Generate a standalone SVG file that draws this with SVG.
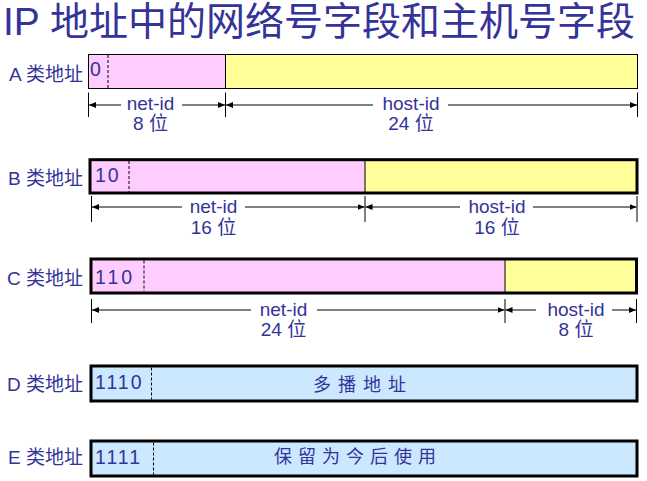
<svg xmlns="http://www.w3.org/2000/svg" width="647" height="481" viewBox="0 0 647 481">
<style>
text{font-family:"Liberation Sans","Noto Sans CJK SC",sans-serif;fill:#333399}
.title{font-size:39px}
.lbl{font-size:19px;text-anchor:end}
.bits{font-size:19.5px}
.dim{font-size:19px;text-anchor:middle}
.cjk{font-size:18px;text-anchor:middle}
.pink{fill:#ffccff}
.yel{fill:#ffff99}
.blue{fill:#cce8ff}
.thin{fill:none;stroke:#000;stroke-width:1}
.thick{fill:none;stroke:#000;stroke-width:3}
.div{stroke:#000;stroke-width:1}
.dash{stroke:#000;stroke-width:1;stroke-dasharray:3,2}
.arr{stroke:#000;stroke-width:1;fill:none}
.tick{stroke:#000;stroke-width:1}
</style>
<defs>
<marker id="ah" markerUnits="userSpaceOnUse" markerWidth="7" markerHeight="6" refX="7" refY="3" orient="auto-start-reverse">
<path d="M0,0 L7,3 L0,6 z" fill="#000"/>
</marker>
</defs>
<rect width="647" height="481" fill="#fff"/>
<text class="title" x="3" y="35">IP 地址中的网络号字段和主机号字段</text>

<g id="classA">
<text class="lbl" x="83" y="81">A 类地址</text>
<rect class="pink" x="88.5" y="54.5" width="137" height="34"/>
<rect class="yel" x="225.5" y="54.5" width="412" height="34"/>
<line class="div" x1="225.5" y1="54.5" x2="225.5" y2="88.5"/>
<line class="dash" x1="108" y1="55" x2="108" y2="88"/>
<rect class="thin" x="88.5" y="54.5" width="549" height="34"/>
<text class="bits" x="90" y="76">0</text>
<text class="dim" x="150.5" y="110">net-id</text>
<text class="dim" x="150.5" y="130">8 位</text>
<text class="dim" x="411" y="110">host-id</text>
<text class="dim" x="411" y="130">24 位</text>
</g>

<g id="classB">
<text class="lbl" x="83" y="184.5">B 类地址</text>
<rect class="pink" x="90" y="159.7" width="275" height="33.3"/>
<rect class="yel" x="365" y="159.7" width="272" height="33.3"/>
<line class="div" x1="365" y1="159.7" x2="365" y2="193"/>
<line class="dash" x1="129" y1="161" x2="129" y2="192"/>
<rect class="thick" x="90" y="159.7" width="547" height="33.3"/>
<text class="bits" x="95" y="182" letter-spacing="2">10</text>
<text class="dim" x="213.5" y="213">net-id</text>
<text class="dim" x="213.5" y="234">16 位</text>
<text class="dim" x="497" y="213">host-id</text>
<text class="dim" x="497" y="234">16 位</text>
</g>

<g id="classC">
<text class="lbl" x="83" y="284.5">C 类地址</text>
<rect class="pink" x="91" y="259" width="414" height="34"/>
<rect class="yel" x="505" y="259" width="131.5" height="34"/>
<line class="div" x1="505" y1="259" x2="505" y2="293"/>
<line class="dash" x1="144" y1="260.5" x2="144" y2="291.5"/>
<rect class="thick" x="91" y="259" width="545.5" height="34"/>
<text class="bits" x="95" y="283.5" letter-spacing="3">110</text>
<text class="dim" x="283.5" y="316">net-id</text>
<text class="dim" x="283.5" y="336">24 位</text>
<text class="dim" x="576" y="316">host-id</text>
<text class="dim" x="576" y="336">8 位</text>
</g>

<g id="classD">
<text class="lbl" x="83" y="390.5">D 类地址</text>
<rect class="blue" x="91" y="366" width="546" height="35"/>
<line class="dash" x1="151.5" y1="367.5" x2="151.5" y2="399.5"/>
<rect class="thick" x="91" y="366" width="546" height="35"/>
<text class="bits" x="95" y="389" letter-spacing="2">1110</text>
<text class="cjk" x="363" y="391" letter-spacing="7">多播地址</text>
</g>

<g id="classE">
<text class="lbl" x="83" y="464">E 类地址</text>
<rect class="blue" x="91" y="441" width="546" height="35"/>
<line class="dash" x1="153.5" y1="442.5" x2="153.5" y2="474.5"/>
<rect class="thick" x="91" y="441" width="546" height="35"/>
<text class="bits" x="95" y="464" letter-spacing="2">1111</text>
<text class="cjk" x="358" y="463" letter-spacing="6">保留为今后使用</text>
</g>

<g id="connectors">
<line class="tick" x1="88.5" y1="92.5" x2="88.5" y2="117"/>
<line class="tick" x1="225.5" y1="92.5" x2="225.5" y2="117"/>
<line class="tick" x1="637.5" y1="92.5" x2="637.5" y2="117"/>
<line class="arr" x1="121" y1="105" x2="89" y2="105" marker-end="url(#ah)"/>
<line class="arr" x1="182" y1="105" x2="225" y2="105" marker-end="url(#ah)"/>
<line class="arr" x1="373" y1="105" x2="226" y2="105" marker-end="url(#ah)"/>
<line class="arr" x1="448" y1="105" x2="637" y2="105" marker-end="url(#ah)"/>

<line class="tick" x1="91.5" y1="196" x2="91.5" y2="222"/>
<line class="tick" x1="365" y1="196" x2="365" y2="222"/>
<line class="tick" x1="637" y1="196" x2="637" y2="222"/>
<line class="arr" x1="182" y1="207" x2="92" y2="207" marker-end="url(#ah)"/>
<line class="arr" x1="245" y1="207" x2="364.5" y2="207" marker-end="url(#ah)"/>
<line class="arr" x1="460" y1="207" x2="365.5" y2="207" marker-end="url(#ah)"/>
<line class="arr" x1="533" y1="207" x2="636.5" y2="207" marker-end="url(#ah)"/>

<line class="tick" x1="91.5" y1="299" x2="91.5" y2="323"/>
<line class="tick" x1="505" y1="299" x2="505" y2="323"/>
<line class="tick" x1="636.5" y1="299" x2="636.5" y2="323"/>
<line class="arr" x1="251" y1="310" x2="92" y2="310" marker-end="url(#ah)"/>
<line class="arr" x1="317" y1="310" x2="504.5" y2="310" marker-end="url(#ah)"/>
<line class="arr" x1="536" y1="310" x2="505.5" y2="310" marker-end="url(#ah)"/>
<line class="arr" x1="612" y1="310" x2="636" y2="310" marker-end="url(#ah)"/>
</g>
</svg>
